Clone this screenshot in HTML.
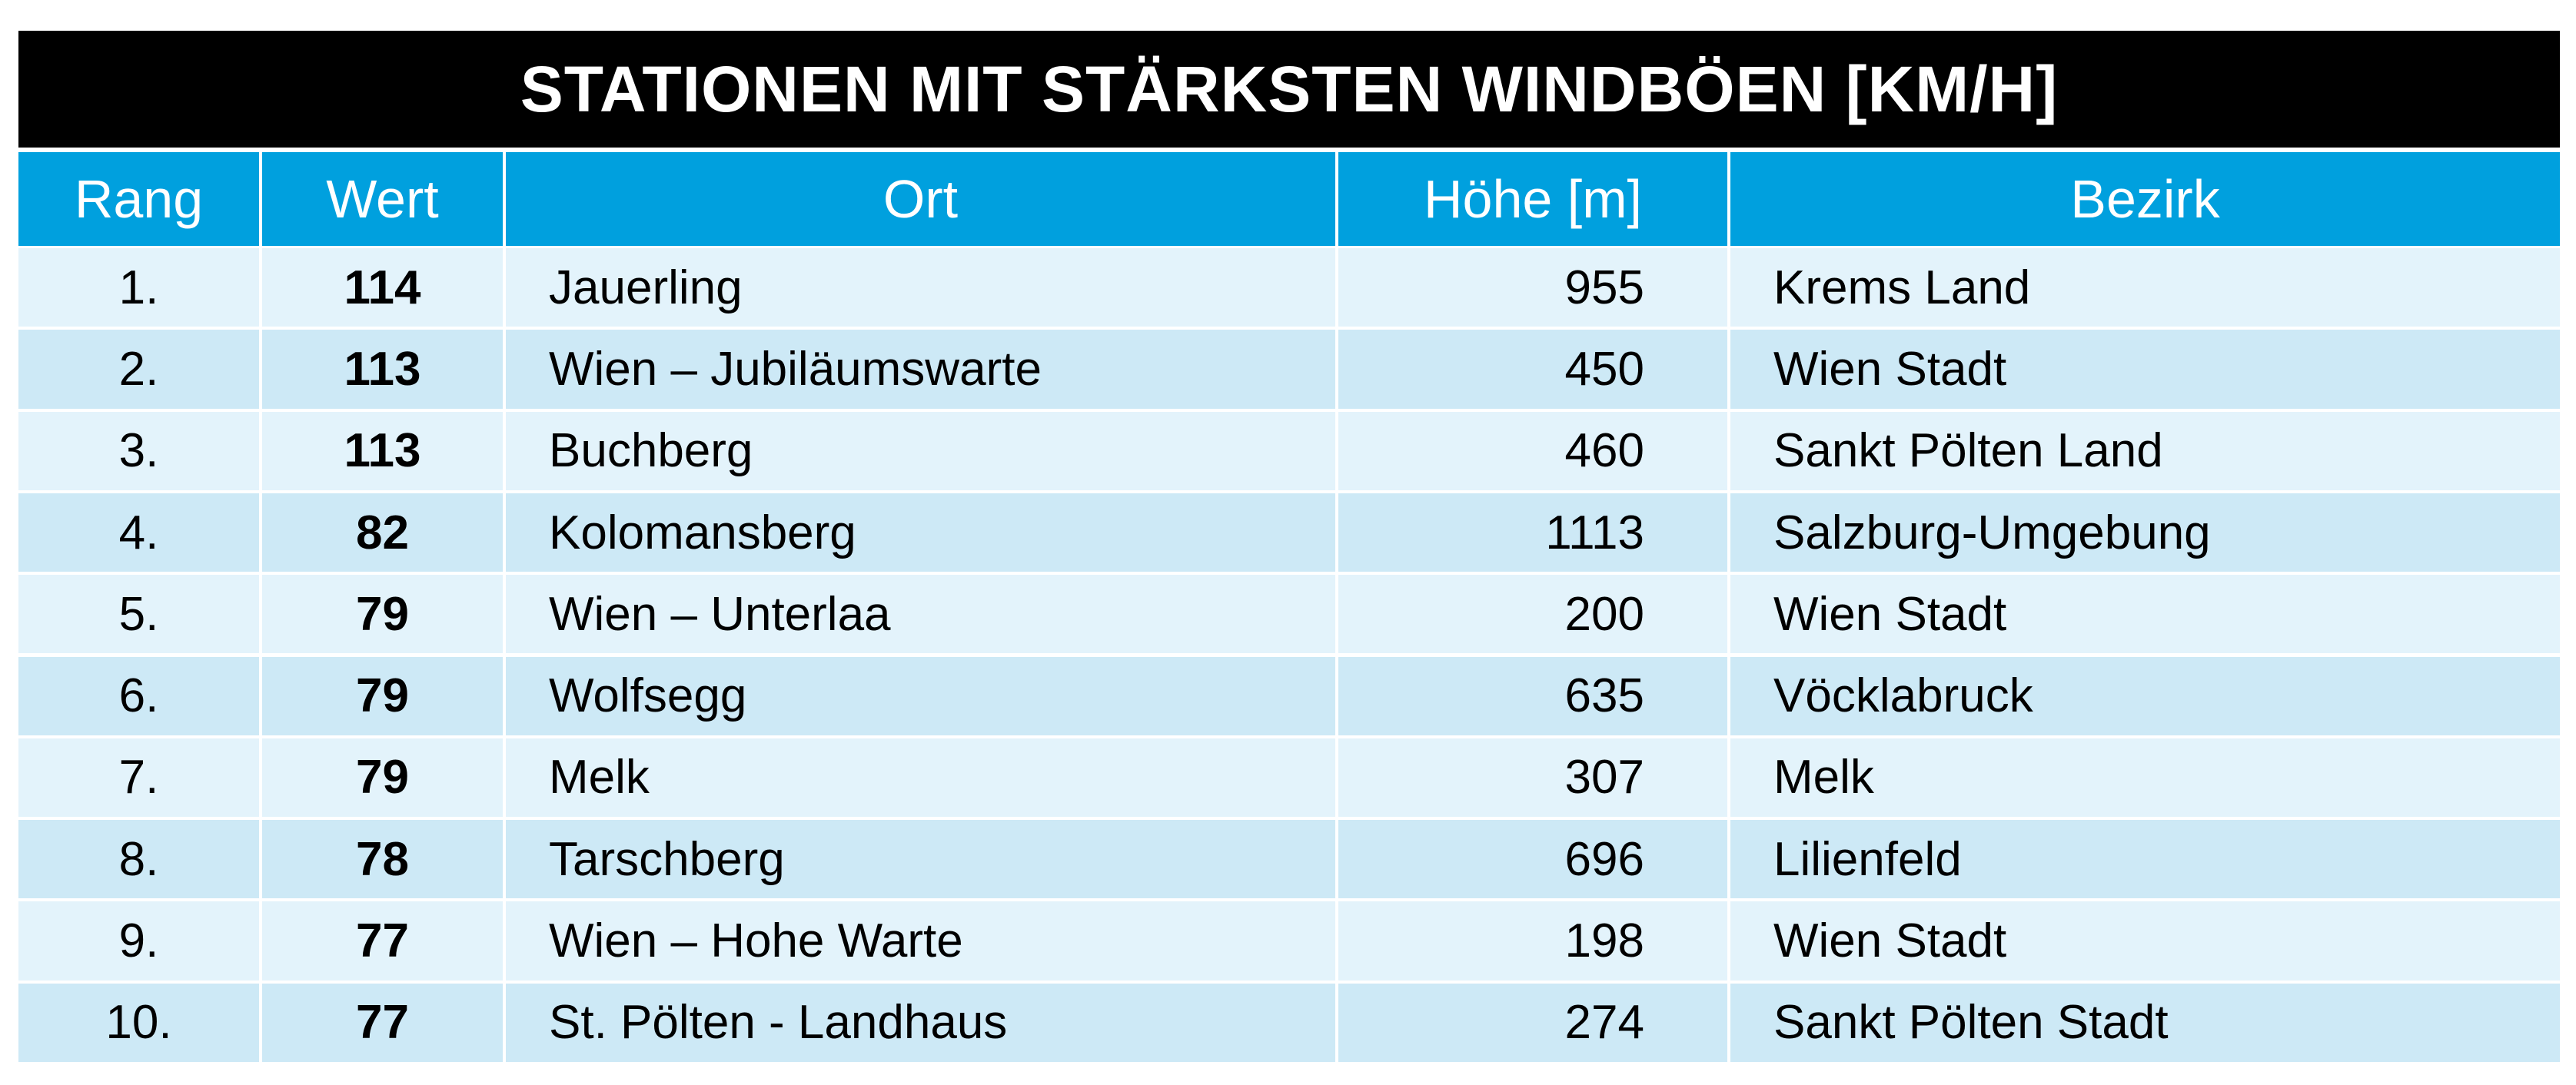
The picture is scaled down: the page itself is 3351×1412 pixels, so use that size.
<!DOCTYPE html>
<html><head><meta charset="utf-8">
<style>
html,body{margin:0;padding:0;background:#fff;}
body{width:3351px;height:1412px;position:relative;overflow:hidden;font-family:"Liberation Sans Narrow","Liberation Sans",sans-serif;}
.abs{position:absolute;box-sizing:border-box;}
#title{left:24px;top:40px;width:3306px;height:152px;background:#000;color:#fff;font-weight:bold;font-size:84px;display:flex;align-items:center;justify-content:center;letter-spacing:1px;}
.hd{top:198px;height:122px;background:#00a0de;color:#fff;font-size:70px;display:flex;align-items:center;justify-content:center;}
.cell{font-size:62px;color:#000;display:flex;align-items:center;}
</style></head>
<body>
<div id="title" class="abs">STATIONEN MIT STÄRKSTEN WINDBÖEN [KM/H]</div>
<div id="tbl"></div>
<script>
const ranks=["1.","2.","3.","4.","5.","6.","7.","8.","9.","10."];
const values=[114,113,113,82,79,79,79,78,77,77];
const places=["Jauerling","Wien – Jubiläumswarte","Buchberg","Kolomansberg","Wien – Unterlaa","Wolfsegg","Melk","Tarschberg","Wien – Hohe Warte","St. Pölten - Landhaus"];
const heights=[955,450,460,1113,200,635,307,696,198,274];
const districts=["Krems Land","Wien Stadt","Sankt Pölten Land","Salzburg-Umgebung","Wien Stadt","Vöcklabruck","Melk","Lilienfeld","Wien Stadt","Sankt Pölten Stadt"];
const headers=["Rang","Wert","Ort","Höhe [m]","Bezirk"];
const cols=[[24,337],[341,654],[658,1737],[1741,2247],[2251,3330]];
const tbl=document.getElementById('tbl');
headers.forEach((h,i)=>{
  const d=document.createElement('div');
  d.className='abs hd';
  d.style.left=cols[i][0]+'px';d.style.width=(cols[i][1]-cols[i][0])+'px';
  d.textContent=h;
  
  
  tbl.appendChild(d);
});
const top0=323,rowH=106.3;
for(let r=0;r<ranks.length;r++){
  const y=top0+r*rowH;
  const bg=r%2===0?'#e3f3fb':'#cde9f6';
  const texts=[ranks[r],String(values[r]),places[r],String(heights[r]),districts[r]];
  const names=['rank-cell','value-cell','place-cell','altitude-cell','district-cell'];
  texts.forEach((t,i)=>{
    const d=document.createElement('div');
    d.className='abs cell';
    d.style.left=cols[i][0]+'px';d.style.width=(cols[i][1]-cols[i][0])+'px';
    d.style.top=y+'px';d.style.height=(rowH-4)+'px';d.style.background=bg;
    if(i<2){d.style.justifyContent='center';}
    else if(i===3){d.style.justifyContent='flex-end';d.style.paddingRight='108px';}
    else{d.style.paddingLeft='56px';}
    if(i===1)d.style.fontWeight='bold';
    d.textContent=t;
    
    
    tbl.appendChild(d);
  });
}
</script>
</body></html>
